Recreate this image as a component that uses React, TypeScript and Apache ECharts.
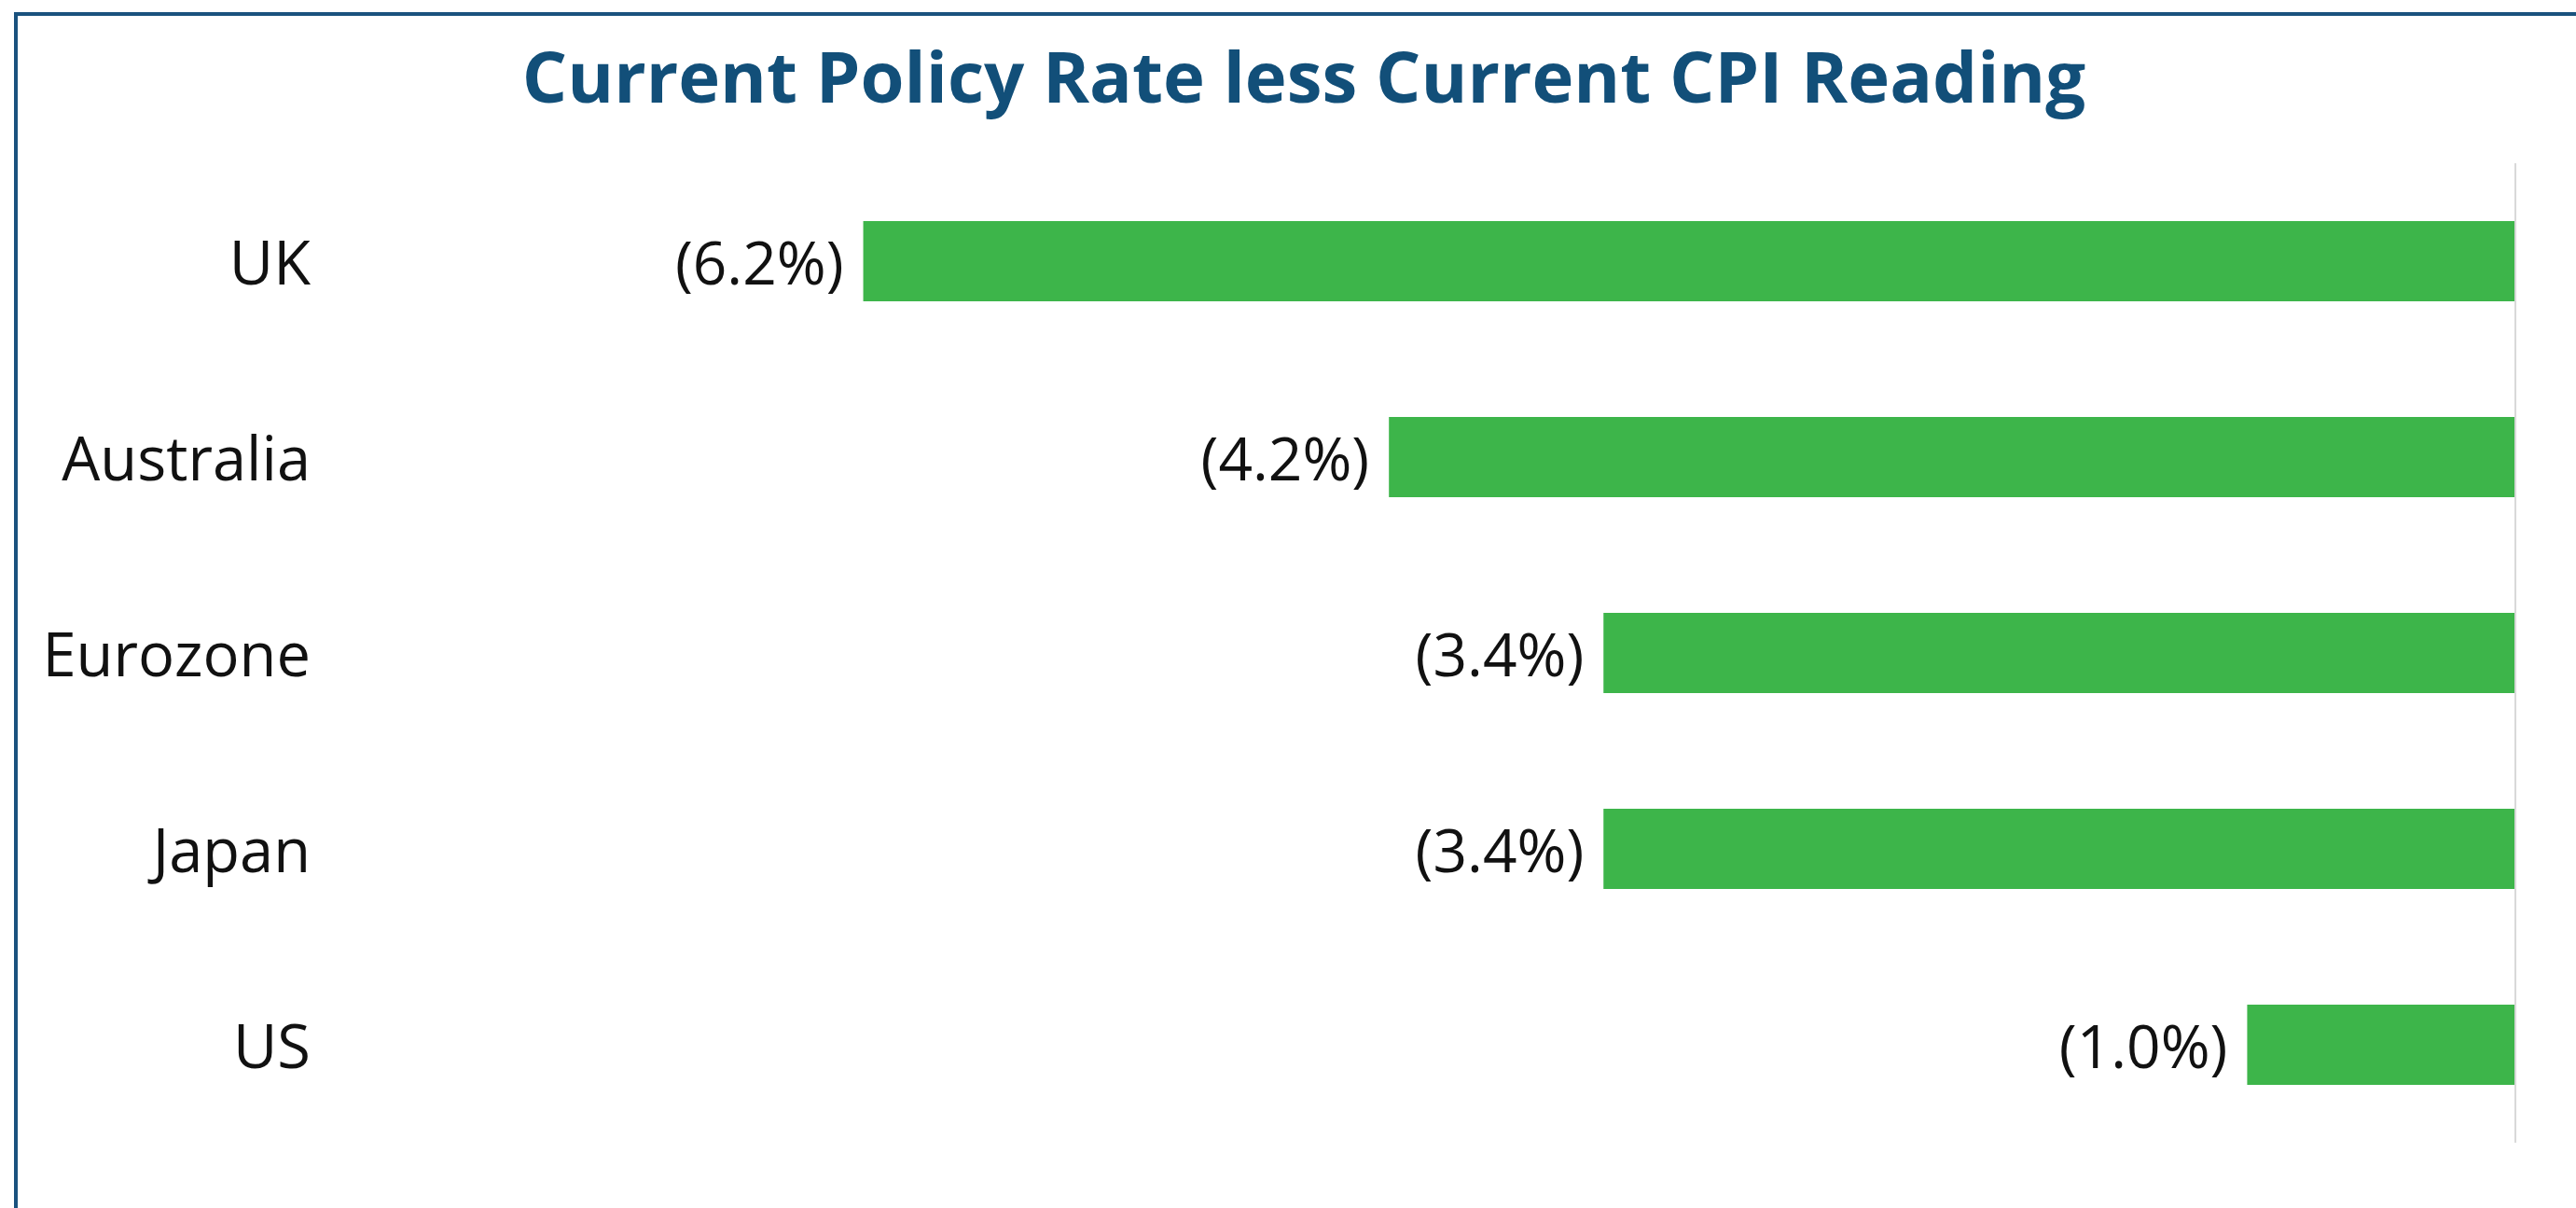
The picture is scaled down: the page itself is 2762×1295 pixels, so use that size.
import React, { useEffect, useRef } from "react";
import * as echarts from "echarts";

const categories: string[] = ["UK", "Australia", "Eurozone", "Japan", "US"];
const values: number[] = [-6.16, -4.2, -3.4, -3.4, -1.0];
const titleText = "Current Policy Rate less Current CPI Reading";

export default function App() {
  const ref = useRef<HTMLDivElement>(null);
  useEffect(() => {
    document.body.style.margin = "0";
    const chart = echarts.init(ref.current!, null, { renderer: "svg" });
    chart.setOption({
      animation: false,
      backgroundColor: "#ffffff",
      grid: { left: 684, right: 65, top: 175, bottom: 70, containLabel: false },
      xAxis: {
        type: "value",
        min: -7,
        max: 0,
        show: false,
      },
      yAxis: {
        type: "category",
        data: categories,
        inverse: true,
        axisLine: { show: false },
        axisTick: { show: false },
        axisLabel: {
          show: true,
          margin: 351,
          fontFamily: "Open Sans",
          fontSize: 65,
          color: "#111111",
          padding: [0, 0, 8, 0],
        },
      },
      graphic: [
        {
          type: "rect",
          shape: { x: 17, y: 15, width: 3000, height: 1500 },
          style: { fill: "none", stroke: "#1a527e", lineWidth: 4 },
          silent: true,
        },
        {
          type: "text",
          x: 1398,
          y: 80,
          style: {
            text: titleText,
            fontFamily: "Open Sans",
            fontWeight: "bold",
            fontSize: 76,
            fill: "#124f79",
            textAlign: "center",
            textVerticalAlign: "middle",
          },
        },
      ],
      series: [
        {
          type: "bar",
          data: values,
          barWidth: 86,
          itemStyle: { color: "#3db54a" },
          label: {
            show: true,
            position: "left",
            distance: 21,
            fontFamily: "Open Sans",
            fontSize: 64,
            color: "#111111",
            formatter: (p: any) => `(${Math.abs(p.value).toFixed(1)}%)`,
          },
          markLine: {
            silent: true,
            symbol: "none",
            label: { show: false },
            lineStyle: { color: "#d9d9d9", width: 2, type: "solid" },
            data: [{ xAxis: 0 }],
          },
        },
      ],
    });
    return () => chart.dispose();
  }, []);
  return (
    <div
      ref={ref}
      style={{ position: "fixed", left: 0, top: 0, width: 2762, height: 1295 }}
    />
  );
}
